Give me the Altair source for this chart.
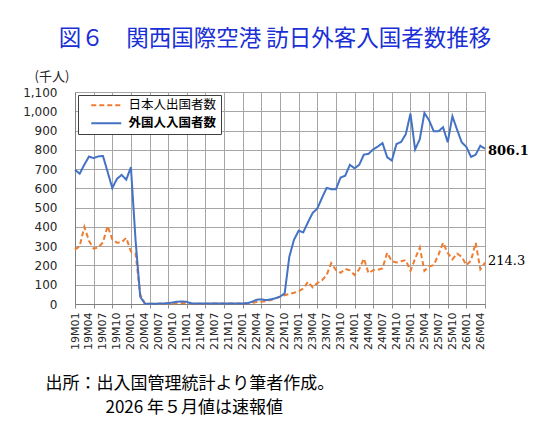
import altair as alt
import pandas as pd

months = [f"{y:02d}M{m:02d}" for y in range(19, 27) for m in range(1, 13)][:89]

foreign = [697, 676, 723, 765, 757, 766, 768, 686, 602, 649, 670, 645, 710,
           330, 38, 2, 1, 1, 2, 3, 4, 8, 12, 13, 11,
           3, 2, 2, 2, 2, 2, 2, 2, 3, 3, 3, 3,
           4, 12, 22, 24, 20, 24, 30, 38, 55, 245, 333, 380,
           372, 424, 472, 495, 550, 602, 596, 595, 656, 666, 722, 704,
           722, 775, 779, 802, 817, 835, 762, 744, 830, 841, 881, 988,
           802, 855, 991, 953, 896, 896, 917, 839, 974, 905, 839, 815,
           763, 775, 821, 806.1]

japanese = [282, 300, 400, 328, 287, 293, 320, 405, 335, 318, 320, 343, 272,
            262, 50, 2, 1, 1, 1, 2, 2, 3, 4, 5, 4,
            2, 1, 1, 1, 2, 2, 2, 2, 2, 2, 3, 3,
            4, 6, 10, 12, 15, 20, 28, 38, 45, 52, 58, 66,
            80, 115, 87, 108, 122, 150, 212, 177, 162, 182, 175, 150,
            180, 236, 160, 175, 178, 185, 266, 222, 215, 222, 228, 172,
            235, 293, 172, 195, 202, 255, 318, 265, 232, 262, 245, 202,
            225, 318, 180, 214.3]

series_names = ["日本人出国者数", "外国人入国者数"]
series_colors = ["#ED7D31", "#4472C4"]
series_dashes = [[5, 3], [1, 0]]

grid_ticks = list(range(0, 89, 4))
label_ticks = list(range(0, 88, 3))
y_ticks = list(range(0, 1101, 100))

title_text = "図６　関西国際空港  訪日外客入国者数推移"
unit_text = "(千人)"
source_line1 = "出所：出入国管理統計より筆者作成。"
source_line2 = "2026 年５月値は速報値"

n = len(months)
df = pd.DataFrame({
    "idx": list(range(n)) * 2,
    "month": months * 2,
    "value": japanese + foreign,
    "series": [series_names[0]] * n + [series_names[1]] * n,
})
last = df[df["idx"] == n - 1]

label_expr = "[" + ",".join(f"'{m}'" for m in months) + "][datum.value]"

JP = "Noto Sans CJK JP"
xscale = alt.Scale(domain=[0, n - 1], nice=False, zero=False)
yscale = alt.Scale(domain=[0, 1100], nice=False)

grid_axis = alt.Axis(
    orient="bottom", values=grid_ticks, grid=True, gridColor="#a6a6a6", gridWidth=1,
    labels=False, ticks=True, tickSize=4, tickColor="#8c8c8c",
    domain=True, domainColor="#7f7f7f",
    title=source_line1, titleFont=JP, titleFontSize=17, titleFontWeight="normal",
    titleColor="#000000", titleX=-30, titleY=79, titleAlign="left", titleBaseline="middle",
)
label_axis = alt.Axis(
    orient="bottom", values=label_ticks, grid=False, ticks=False, domain=False,
    labelExpr=label_expr, labelAngle=-90, labelFont="DejaVu Sans", labelFontSize=11,
    labelColor="#262626", labelPadding=8, labelOverlap=False, labelFlush=False,
    title=source_line2, titleFont=JP, titleFontSize=17, titleFontWeight="normal",
    titleColor="#000000", titleX=30, titleY=103, titleAlign="left", titleBaseline="middle",
)
y_axis = alt.Axis(
    values=y_ticks, labelExpr="format(datum.value, ',')", grid=True, gridColor="#a6a6a6",
    gridWidth=1, ticks=False, domain=True, domainColor="#7f7f7f",
    labelFont="DejaVu Sans", labelFontSize=12, labelColor="#262626", labelPadding=18,
    labelFlush=False,
    title=unit_text, titleAngle=0, titleAlign="left", titleBaseline="middle",
    titleX=-41, titleY=-16, titleFont=JP, titleFontSize=13, titleFontWeight="normal",
    titleColor="#262626",
)
legend = alt.Legend(
    title=None, orient="none", legendX=3, legendY=3, direction="vertical",
    strokeColor="#404040", fillColor="white", padding=4,
    labelFont=JP, labelFontSize=12.5, labelColor="#000000",
    labelFontWeight=alt.ExprRef(expr="datum.label == '外国人入国者数' ? 'bold' : 'normal'"),
    symbolType="M-3,0H3", symbolSize=100, symbolStrokeWidth=2,
    symbolOffset=18, labelOffset=16, rowPadding=5,
)

lines = alt.Chart(df).mark_line(strokeWidth=2).encode(
    x=alt.X("idx:Q", scale=xscale, axis=grid_axis),
    y=alt.Y("value:Q", scale=yscale, axis=y_axis),
    color=alt.Color("series:N", scale=alt.Scale(domain=series_names, range=series_colors), legend=legend),
    strokeDash=alt.StrokeDash("series:N", scale=alt.Scale(domain=series_names, range=series_dashes), legend=legend),
)

label_blue = alt.Chart(last).transform_filter(
    alt.datum.series == series_names[1]
).mark_text(align="left", baseline="middle", dx=3, dy=2, font="DejaVu Serif",
            fontSize=13, fontWeight="bold", color="#000000").encode(
    x=alt.X("idx:Q", scale=xscale, axis=label_axis),
    y=alt.Y("value:Q", scale=yscale, axis=y_axis),
    text=alt.Text("value:Q", format=".1f"),
)

label_orange = alt.Chart(last).transform_filter(
    alt.datum.series == series_names[0]
).mark_text(align="left", baseline="middle", dx=3, dy=-2, font="DejaVu Serif",
            fontSize=13, fontWeight="normal", color="#000000").encode(
    x=alt.X("idx:Q", scale=xscale, axis=None),
    y=alt.Y("value:Q", scale=yscale, axis=y_axis),
    text=alt.Text("value:Q", format=".1f"),
)

chart = alt.layer(lines, label_blue, label_orange).resolve_axis(x="independent").properties(
    width=410, height=212,
    padding={"left": 67, "top": 84, "right": 44, "bottom": 120},
    autosize=alt.AutoSizeParams(type="none"),
    title=alt.TitleParams(text=title_text, font=JP, fontSize=22.5, fontWeight="normal",
                          color="#1a2fd6", anchor="middle", offset=20, dx=-5),
).configure_view(stroke="#404040", strokeWidth=1).configure(background="white")

chart.save("out.html", embed_options={"renderer": "svg", "actions": False})
